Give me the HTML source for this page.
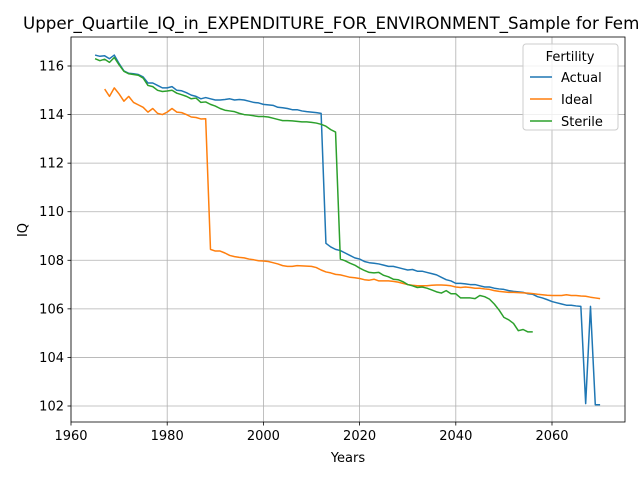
<!DOCTYPE html>
<html><head><meta charset="utf-8"><style>
body{margin:0;background:#fff;overflow:hidden;}
svg{display:block;font-family:"DejaVu Sans","Liberation Sans",sans-serif;}
</style></head><body>
<svg id="chart" width="640" height="480">
<text x="23" y="29" font-size="16.7" fill="#000">Upper_Quartile_IQ_in_EXPENDITURE_FOR_ENVIRONMENT_Sample for Females</text>
<g id="grid"></g>
<g id="series"></g>
<rect x="71" y="37" width="554" height="385" fill="none" stroke="#000" stroke-width="0.8"/>
<g id="ticks"></g>
<text x="348" y="462" font-size="13" text-anchor="middle">Years</text>
<text x="27" y="230" font-size="13" text-anchor="middle" transform="rotate(-90 27 230)">IQ</text>
<g>
<rect x="523" y="44" width="95" height="86" rx="3" fill="#fff" fill-opacity="0.8" stroke="#ccc"/>
<text x="570" y="61" font-size="13" text-anchor="middle">Fertility</text>
<line x1="530" y1="77" x2="552" y2="77" stroke="#1f77b4" stroke-width="1.5"/>
<text x="561" y="82" font-size="13">Actual</text>
<line x1="530" y1="99" x2="552" y2="99" stroke="#ff7f0e" stroke-width="1.5"/>
<text x="561" y="104" font-size="13">Ideal</text>
<line x1="530" y1="121" x2="552" y2="121" stroke="#2ca02c" stroke-width="1.5"/>
<text x="561" y="126" font-size="13">Sterile</text>
</g>
</svg>
<script>
const xTicks=[1960,1980,2000,2020,2040,2060];
const yTicks=[102,104,106,108,110,112,114,116];
const actualStart=1965;
const actualValues=[116.45,116.4,116.42,116.3,116.45,116.1,115.8,115.7,115.68,115.65,115.55,115.3,115.3,115.2,115.1,115.1,115.15,115.0,114.98,114.9,114.8,114.75,114.65,114.7,114.65,114.6,114.6,114.62,114.65,114.6,114.62,114.6,114.55,114.5,114.48,114.42,114.4,114.38,114.3,114.28,114.25,114.2,114.2,114.15,114.12,114.1,114.08,114.05,108.7,108.55,108.45,108.4,108.3,108.2,108.1,108.05,107.95,107.9,107.88,107.85,107.8,107.75,107.75,107.7,107.65,107.6,107.62,107.55,107.55,107.5,107.45,107.4,107.3,107.2,107.15,107.05,107.05,107.03,107.0,107.0,106.95,106.9,106.9,106.85,106.82,106.8,106.75,106.72,106.7,106.68,106.62,106.6,106.5,106.45,106.38,106.3,106.25,106.2,106.15,106.15,106.12,106.1,102.1,106.1,102.05,102.05];
const idealStart=1967;
const idealValues=[115.05,114.75,115.1,114.85,114.55,114.75,114.5,114.4,114.3,114.1,114.25,114.05,114.0,114.1,114.25,114.1,114.08,114.0,113.9,113.88,113.82,113.83,108.45,108.38,108.38,108.3,108.2,108.15,108.12,108.1,108.05,108.02,107.98,107.97,107.95,107.9,107.85,107.78,107.75,107.75,107.78,107.77,107.76,107.75,107.7,107.6,107.52,107.48,107.42,107.4,107.35,107.3,107.28,107.25,107.2,107.18,107.22,107.15,107.15,107.15,107.13,107.1,107.05,107.0,106.97,106.95,106.95,106.95,106.97,106.98,106.98,106.97,106.95,106.9,106.88,106.9,106.88,106.85,106.85,106.82,106.8,106.75,106.72,106.7,106.68,106.68,106.67,106.66,106.65,106.63,106.6,106.58,106.56,106.55,106.55,106.55,106.58,106.55,106.55,106.53,106.52,106.48,106.45,106.42];
const sterileStart=1965;
const sterileValues=[116.3,116.22,116.28,116.15,116.35,116.05,115.78,115.68,115.65,115.62,115.5,115.2,115.15,115.0,114.95,114.97,115.0,114.88,114.82,114.75,114.65,114.68,114.5,114.52,114.42,114.35,114.25,114.18,114.15,114.12,114.05,114.0,113.98,113.95,113.92,113.92,113.9,113.85,113.8,113.75,113.75,113.74,113.72,113.7,113.7,113.68,113.65,113.6,113.52,113.38,113.28,108.05,107.98,107.88,107.8,107.68,107.58,107.5,107.48,107.5,107.38,107.32,107.22,107.2,107.12,107.0,106.95,106.88,106.9,106.85,106.78,106.7,106.65,106.75,106.62,106.62,106.45,106.45,106.45,106.42,106.55,106.5,106.4,106.2,105.95,105.65,105.55,105.4,105.1,105.15,105.05,105.05];

const NS="http://www.w3.org/2000/svg";
const X=v=>71+(v-1960)*(481/100);
const Y=v=>66+(116-v)*(340/14);
const grid=document.getElementById('grid'),ticks=document.getElementById('ticks'),series=document.getElementById('series');
function mk(tag,attrs,parent){const e=document.createElementNS(NS,tag);for(const k in attrs)e.setAttribute(k,attrs[k]);parent.appendChild(e);return e;}
xTicks.forEach(t=>{
  const g=mk('line',{x1:X(t),x2:X(t),y1:37,y2:422,stroke:'#b0b0b0','stroke-width':0.8},grid);
  
  
  const tk=mk('line',{x1:X(t),x2:X(t),y1:422,y2:425.5,stroke:'#000','stroke-width':0.8},ticks);
  
  
  const tx=mk('text',{x:X(t),y:440,'font-size':13,'text-anchor':'middle'},ticks);
  tx.textContent=t;
  
  
});
yTicks.forEach(t=>{
  const g=mk('line',{x1:71,x2:625,y1:Y(t),y2:Y(t),stroke:'#b0b0b0','stroke-width':0.8},grid);
  
  
  const tk=mk('line',{x1:67.5,x2:71,y1:Y(t),y2:Y(t),stroke:'#000','stroke-width':0.8},ticks);
  
  
  const tx=mk('text',{x:64,y:Y(t)+4.5,'font-size':13,'text-anchor':'end'},ticks);
  tx.textContent=t;
  
  
});
function line(start,vals,color,name){
  const pts=vals.map((v,i)=>X(start+i).toFixed(2)+','+Y(v).toFixed(2)).join(' ');
  const p=mk('polyline',{points:pts,fill:'none',stroke:color,'stroke-width':1.5,'stroke-linejoin':'round'},series);
  
  
}
line(actualStart,actualValues,'#1f77b4','series-actual');
line(idealStart,idealValues,'#ff7f0e','series-ideal');
line(sterileStart,sterileValues,'#2ca02c','series-sterile');
</script>
</body></html>
